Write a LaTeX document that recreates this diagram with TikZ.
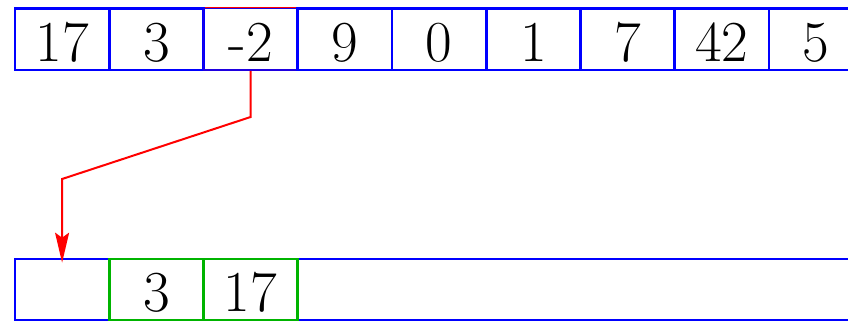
\documentclass[tikz,border=0pt]{standalone}
\usetikzlibrary{arrows.meta}
\definecolor{cellblue}{RGB}{0,0,255}
\definecolor{cellgreen}{RGB}{0,180,0}
\definecolor{arrred}{RGB}{255,0,0}
\begin{document}
\begin{tikzpicture}[x=1pt,y=-1pt,
  cell/.style={draw=cellblue,line width=2.6pt,minimum width=94.25pt,minimum height=61.5pt,inner sep=0pt,
    font=\fontsize{58}{60}\selectfont,text height=44pt,text depth=0pt},
  greencell/.style={cell,draw=cellgreen},
  link/.style={draw=arrred,line width=2pt,line join=miter}]
\useasboundingbox (0,0) rectangle (848,321);
\clip (0,0) rectangle (848,321);
% top row
\draw[arrred,line width=1.2pt] (204.5,7.6) rectangle (297.7,70);
\node[cell] (t0) at (62.1,39.25) {17};
\node[cell] (t1) at (156.35,39.25) {3};
\node[cell,draw=cellblue!88!arrred,line width=1.8pt] (t2) at (250.6,39.25) {-2};
\node[cell] (t3) at (344.85,39.25) {9};
\node[cell] (t4) at (439.1,39.25) {0};
\node[cell] (t5) at (533.35,39.25) {1};
\node[cell] (t6) at (627.6,39.25) {7};
\node[cell] (t7) at (721.85,39.25) {42};
\node[cell] (t8) at (816.1,39.25) {5};
\node[cell] (t9) at (910.35,39.25) {};
% bottom row
\node[cell,minimum width=1000pt] (rest) at (514.975,289.75) {};
\node[cell] (b0) at (62.1,289.75) {};
\node[greencell] (b1) at (156.35,289.75) {3};
\node[greencell] (b2) at (250.6,289.75) {17};
% arrow
\coordinate (k1) at (250.6,117);
\coordinate (k2) at (62.1,179);
\draw[link,-{Stealth[length=30pt,width=14pt,inset=5pt]},shorten >=-5pt] (t2.south) -- (k1) -- (k2) -- (b0.north);
\end{tikzpicture}
\end{document}
